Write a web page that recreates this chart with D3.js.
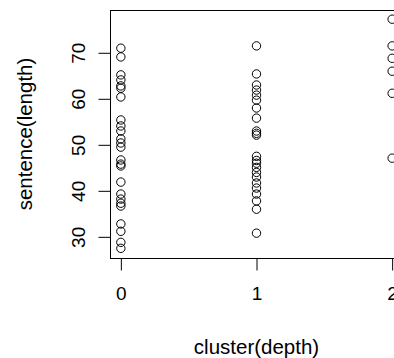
<!DOCTYPE html>
<html>
<head>
<meta charset="utf-8">
<script src="https://cdn.jsdelivr.net/npm/d3@7"></script>
<style>
  body { margin: 0; background: #fff; }
  text { font-family: "Liberation Sans", Arial, sans-serif; font-size: 20.5px; fill: #000; }
</style>
</head>
<body>
<svg id="chart" width="394" height="358"></svg>
<script>
// sentence length per cluster depth
var depth0 = [71.0, 69.1, 65.2, 64.1, 62.8, 62.3, 60.4, 55.4, 54.1, 53.0, 51.3, 50.4, 49.5,
              46.7, 45.8, 45.4, 41.9, 39.3, 38.2, 37.3, 36.7, 32.8, 31.2, 28.8, 27.5];
var depth1 = [71.5, 65.4, 63.0, 61.9, 60.8, 59.7, 58.0, 55.8, 53.0, 52.5, 52.1, 47.5,
              46.6, 46.0, 45.1, 44.0, 43.0, 41.7, 40.6, 39.3, 37.8, 36.0, 30.8];
var depth2 = [77.3, 71.5, 68.8, 66.0, 61.2, 47.1];

var xTicks = [0, 1, 2];
var yTicks = [30, 40, 50, 60, 70];

var points = [];
[depth0, depth1, depth2].forEach(function (arr, i) {
    arr.forEach(function (v) { points.push({ x: i, y: v }); });
});

var plotL = 110, plotR = 403, plotT = 10, plotB = 258;

// R style 4% padding
var xScale = d3.scaleLinear().domain([-0.08, 2.08]).range([plotL, plotR]);
var yScale = d3.scaleLinear().domain([25.4, 79.3]).range([plotB, plotT]);

var svg = d3.select("#chart");

// points
svg.append("g")
    .selectAll("circle")
    .data(points)
    .enter()
    .append("circle")
    .attr("cx", function (d) { return xScale(d.x); })
    .attr("cy", function (d) { return yScale(d.y); })
    .attr("r", 4.2)
    .attr("fill", "none")
    .attr("stroke", "#000")
    .attr("stroke-width", 1);

// box
svg.append("rect")
    .attr("x", plotL + 0.5)
    .attr("y", plotT + 0.5)
    .attr("width", plotR - plotL)
    .attr("height", plotB - plotT)
    .attr("fill", "none")
    .attr("stroke", "#000")
    .attr("stroke-width", 1);

// x axis
var gx = svg.append("g")
    .attr("transform", "translate(0," + (plotB + 0.5) + ")")
    .call(d3.axisBottom(xScale).tickValues(xTicks).tickFormat(d3.format("d"))
        .tickSize(12).tickSizeOuter(0));
gx.select(".domain").remove();
gx.selectAll("text").attr("y", 41).attr("dy", 0).style("font-size", "19px");

// y axis
var gy = svg.append("g")
    .attr("transform", "translate(" + (plotL + 0.5) + ",0)")
    .call(d3.axisLeft(yScale).tickValues(yTicks).tickFormat(d3.format("d"))
        .tickSize(12).tickSizeOuter(0));
gy.select(".domain").remove();
gy.selectAll("text")
    .attr("transform", "rotate(-90)")
    .attr("x", 0)
    .attr("y", -26)
    .attr("dy", 0)
    .attr("text-anchor", "middle")
    .style("font-size", "19px");

// axis titles
svg.append("text")
    .attr("x", (plotL + plotR) / 2)
    .attr("y", 354)
    .attr("text-anchor", "middle")
    .text("cluster(depth)");

svg.append("text")
    .attr("transform", "translate(32," + (plotT + plotB) / 2 + ") rotate(-90)")
    .attr("text-anchor", "middle")
    .text("sentence(length)");
</script>
</body>
</html>
